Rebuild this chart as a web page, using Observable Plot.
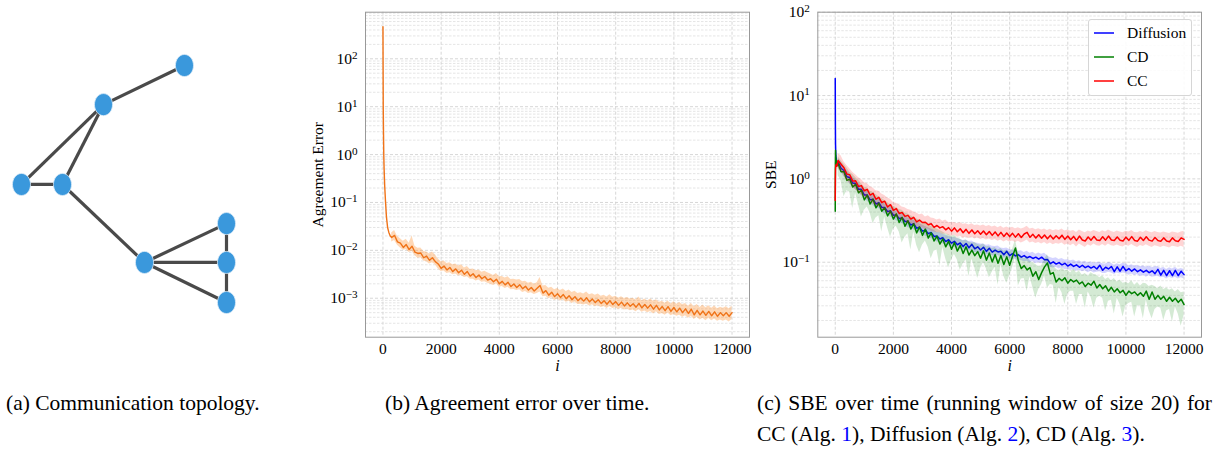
<!DOCTYPE html>
<html><head><meta charset="utf-8">
<script src="https://cdn.jsdelivr.net/npm/d3@7"></script>
<script src="https://cdn.jsdelivr.net/npm/@observablehq/plot@0.6"></script>
<style>
html,body{margin:0;padding:0;background:#fff;}
#root{position:relative;width:1216px;height:454px;overflow:hidden;font-family:"Liberation Serif",serif;}
.panel{position:absolute;}
</style></head><body><div id="root"></div>
<script>
// ---------- (a) topology ----------
const nodeIds = ["A","B","C","D","E","F","G","H"];
const nodeX = [0.795, 0.40, 0.00, 0.20, 0.60, 1.00, 1.00, 1.00];
const nodeY = [1.000, 0.835, 0.498, 0.498, 0.169, 0.333, 0.169, 0.000];
const edgeFrom = ["A","B","B","C","D","E","E","E","F","G"];
const edgeTo   = ["B","C","D","D","E","F","G","H","G","H"];

// ---------- (b) agreement error ----------
const agreeEarlyIter = [0,5,10,20,28,40,60,90,120,160,200,250];
const agreeEarly = [470,60,10,2.5,1.0,0.5,0.22,0.1,0.05,0.03,0.024,0.02];
const AGREE_UNIT = 1e-4; // main arrays below are in units of 1e-4, i = 300..12000 step 100
const agreeMean = [
185,205,150,142,115,132,104,122,92,86,
88,70,76,62,70,58,52,42,47,39,
44,36,41,34,38.5,31.5,36,29,32.5,27,
30.5,25.5,28.5,24,25.5,22,25,20,22.5,19,
21.5,17.5,19.8,16.8,19.2,15.8,17.8,14.8,16.8,14.2,
16.2,18.5,12.8,14.4,11.6,13.4,10.8,12.4,10.4,11.9,
9.8,11.3,9.3,10.8,8.9,10.1,8.7,10.2,8.4,9.6,
8.1,9.3,7.8,8.9,7.5,8.9,7.4,8.5,7.1,8.3,
6.9,8.0,6.8,7.7,6.5,7.8,6.3,7.4,6.2,7.3,
5.9,7.1,5.7,6.7,5.5,6.7,5.3,6.4,5.2,6.2,
5.0,6.0,4.8,5.9,4.5,5.6,4.5,5.4,4.4,5.3,
4.3,5.2,4.2,5.0,4.3,5.0,4.2,5.0];
const agreeLo = [
150,160,128,112,100,104,90,95,78,68,
70,60,58,52,55,50,41,36,37,33,
34,31,32,29,30,27,28,25,25,23,
24,21.5,22,20.5,19.5,18.5,20,17,17.5,16,
17,15,15.2,14.5,15,13.2,13.8,12.5,13,12,
12.6,13.5,10.8,11,9.8,10.3,9.0,9.5,8.7,9.2,
8.2,8.6,7.8,8.3,7.4,7.5,7.2,7.6,6.9,7.3,
6.6,7.0,6.4,6.7,6.1,6.7,6.1,6.3,5.8,6.2,
5.7,5.9,5.5,5.7,5.2,5.8,5.1,5.4,5.0,5.3,
4.7,5.2,4.6,4.8,4.4,4.9,4.3,4.6,4.2,4.4,
4.0,4.3,3.8,4.2,3.6,4.0,3.5,3.8,3.4,3.8,
3.4,3.7,3.3,3.5,3.3,3.5,3.2,3.6];
const agreeHi = [
230,260,195,175,155,170,140,200,122,110,
112,95,92,84,92,80,66,58,60,53,
55,50,52,47,50,43,46,40,41,37.5,
39,35,36.5,34,32,30,33,28,28.5,26.5,
28,24.5,25,24,24.5,22,22.5,20.5,21.5,19.5,
21,27,18,18.5,16.2,17,15,16,14.5,15.5,
13.8,14.8,13.2,14,12.5,13,12.2,13.5,11.8,12.4,
11.5,12.2,11,11.6,10.6,11.8,10.5,11,10,10.8,
9.9,10.4,9.6,10,9.2,10.6,8.9,9.6,8.8,9.6,
8.6,9.3,8.2,8.6,7.9,8.8,7.6,8.4,7.5,8.1,
7.3,7.8,6.8,7.8,6.6,7.4,6.4,7.2,6.3,7.0,
6.2,6.9,6.0,6.5,6.2,6.6,6.0,6.8];

// ---------- (c) SBE ----------
const sbeEarlyIter = [0,5,10,20,40,60,80];
const seriesNames = ["Diffusion","CD","CC"];
const seriesColors = ["#0000ff","#008000","#ff0000"];
const diffEarly = [16,4.5,2.6,1.9,1.7,1.6,1.55];
const cdEarly   = [0.41,1.5,2.2,1.8,1.6,1.5,1.45];
const ccEarly   = [0.55,1.0,1.3,1.45,1.5,1.42,1.55];
// main arrays: i = 100..12000 step 100
const diffMean = [
1.6,1.34,1.26,1.06,1.04,0.89,0.88,0.75,0.75,0.64,
0.64,0.56,0.57,0.5,0.52,0.455,0.455,0.405,0.415,0.365,
0.372,0.333,0.342,0.308,0.31,0.28,0.29,0.256,0.264,0.236,
0.243,0.22,0.228,0.204,0.207,0.19,0.197,0.177,0.186,0.169,
0.178,0.162,0.17,0.154,0.168,0.149,0.164,0.145,0.153,0.14,
0.151,0.135,0.147,0.132,0.14,0.133,0.135,0.123,0.135,0.12,
0.127,0.119,0.123,0.115,0.12,0.113,0.117,0.111,0.115,0.109,
0.115,0.107,0.108,0.096,0.101,0.095,0.099,0.093,0.097,0.09,
0.095,0.089,0.093,0.087,0.092,0.086,0.09,0.085,0.089,0.083,
0.092,0.08,0.087,0.083,0.089,0.077,0.088,0.078,0.089,0.079,
0.084,0.078,0.083,0.077,0.081,0.076,0.08,0.075,0.079,0.073,
0.082,0.07,0.08,0.069,0.079,0.069,0.08,0.069,0.078,0.071];
const diffLo = [
1.35,1.2,1.06,0.96,0.87,0.8,0.74,0.68,0.63,0.58,
0.54,0.51,0.48,0.45,0.44,0.41,0.38,0.37,0.35,0.33,
0.315,0.3,0.29,0.28,0.26,0.255,0.245,0.23,0.225,0.215,
0.205,0.2,0.193,0.185,0.175,0.173,0.167,0.161,0.158,0.153,
0.151,0.147,0.144,0.14,0.142,0.136,0.138,0.131,0.13,0.127,
0.128,0.123,0.125,0.12,0.118,0.121,0.114,0.112,0.114,0.11,
0.107,0.109,0.103,0.105,0.101,0.103,0.098,0.102,0.096,0.099,
0.096,0.098,0.091,0.087,0.085,0.087,0.083,0.085,0.081,0.082,
0.08,0.081,0.078,0.08,0.077,0.079,0.075,0.078,0.074,0.076,
0.077,0.073,0.073,0.076,0.074,0.071,0.074,0.072,0.074,0.073,
0.07,0.072,0.069,0.071,0.067,0.07,0.066,0.069,0.066,0.067,
0.068,0.065,0.066,0.063,0.066,0.064,0.066,0.063,0.065,0.063];
const diffHi = [
1.78,1.57,1.39,1.25,1.14,1.05,0.97,0.89,0.82,0.75,
0.71,0.66,0.63,0.59,0.57,0.54,0.5,0.48,0.46,0.43,
0.41,0.39,0.375,0.365,0.34,0.33,0.32,0.3,0.29,0.28,
0.268,0.26,0.25,0.242,0.228,0.225,0.216,0.21,0.205,0.2,
0.196,0.192,0.187,0.182,0.185,0.177,0.18,0.171,0.169,0.165,
0.166,0.16,0.162,0.156,0.154,0.157,0.148,0.146,0.148,0.142,
0.139,0.141,0.135,0.137,0.131,0.135,0.128,0.132,0.125,0.129,
0.125,0.128,0.119,0.114,0.111,0.113,0.108,0.111,0.106,0.107,
0.104,0.106,0.101,0.104,0.1,0.103,0.098,0.101,0.097,0.099,
0.1,0.096,0.095,0.099,0.097,0.092,0.096,0.093,0.097,0.095,
0.091,0.093,0.09,0.092,0.088,0.091,0.087,0.09,0.086,0.088,
0.089,0.084,0.087,0.082,0.086,0.083,0.087,0.082,0.084,0.082];
const cdMean = [
1.52,1.22,1.22,0.96,0.99,0.8,0.86,0.68,0.73,0.56,
0.64,0.5,0.57,0.45,0.51,0.41,0.45,0.36,0.41,0.33,
0.38,0.3,0.345,0.27,0.315,0.25,0.29,0.225,0.265,0.21,
0.25,0.195,0.225,0.18,0.205,0.165,0.19,0.153,0.178,0.143,
0.172,0.136,0.159,0.127,0.153,0.122,0.14,0.12,0.134,0.112,
0.137,0.106,0.129,0.101,0.124,0.097,0.12,0.094,0.116,0.092,
0.118,0.148,0.104,0.084,0.091,0.081,0.086,0.068,0.077,0.062,
0.075,0.088,0.098,0.072,0.075,0.058,0.064,0.06,0.065,0.056,
0.062,0.058,0.061,0.055,0.058,0.051,0.056,0.053,0.059,0.049,
0.054,0.048,0.052,0.045,0.05,0.044,0.048,0.043,0.046,0.04,
0.045,0.042,0.044,0.04,0.043,0.039,0.045,0.036,0.044,0.036,
0.04,0.036,0.039,0.034,0.038,0.034,0.037,0.033,0.036,0.031];
const cdLo = [
1.09,0.95,0.61,0.72,0.69,0.44,0.67,0.49,0.35,0.42,
0.46,0.39,0.29,0.34,0.36,0.23,0.35,0.26,0.2,0.25,
0.27,0.23,0.17,0.2,0.22,0.14,0.23,0.16,0.13,0.16,
0.18,0.15,0.11,0.135,0.14,0.09,0.15,0.11,0.085,0.107,
0.124,0.106,0.08,0.095,0.107,0.067,0.109,0.086,0.064,0.084,
0.099,0.083,0.065,0.076,0.087,0.053,0.094,0.068,0.056,0.069,
0.085,0.115,0.052,0.063,0.064,0.045,0.067,0.049,0.037,0.047,
0.054,0.069,0.049,0.054,0.053,0.032,0.05,0.043,0.031,0.042,
0.045,0.045,0.031,0.041,0.041,0.028,0.044,0.038,0.028,0.037,
0.039,0.037,0.026,0.034,0.035,0.024,0.037,0.031,0.022,0.03,
0.032,0.033,0.022,0.03,0.03,0.021,0.035,0.026,0.021,0.027,
0.029,0.028,0.02,0.026,0.027,0.019,0.029,0.024,0.017,0.023];
const cdHi = [
1.85,1.65,1.5,1.35,1.2,1.14,1.04,0.96,0.88,0.8,
0.78,0.71,0.69,0.65,0.61,0.58,0.55,0.52,0.49,0.47,
0.45,0.43,0.42,0.39,0.38,0.36,0.35,0.33,0.32,0.3,
0.3,0.28,0.27,0.26,0.25,0.24,0.23,0.22,0.215,0.205,
0.21,0.195,0.19,0.18,0.185,0.175,0.17,0.173,0.163,0.16,
0.166,0.153,0.156,0.146,0.15,0.14,0.146,0.135,0.14,0.133,
0.143,0.185,0.128,0.12,0.11,0.117,0.104,0.098,0.094,0.088,
0.091,0.107,0.124,0.1,0.091,0.083,0.078,0.086,0.079,0.08,
0.075,0.083,0.074,0.078,0.07,0.073,0.068,0.075,0.071,0.07,
0.065,0.069,0.062,0.065,0.06,0.064,0.058,0.061,0.056,0.057,
0.055,0.06,0.053,0.057,0.052,0.056,0.055,0.051,0.053,0.051,
0.048,0.052,0.047,0.049,0.046,0.048,0.044,0.047,0.043,0.044];
const ccMean = [
1.66,1.5,1.36,1.14,1.12,0.94,0.95,0.81,0.83,0.72,
0.75,0.64,0.67,0.57,0.6,0.52,0.54,0.46,0.49,0.42,
0.44,0.385,0.395,0.355,0.365,0.33,0.345,0.305,0.32,0.3,
0.302,0.282,0.29,0.262,0.276,0.258,0.267,0.245,0.26,0.236,
0.258,0.232,0.252,0.226,0.248,0.222,0.244,0.22,0.238,0.217,
0.237,0.214,0.234,0.21,0.231,0.207,0.228,0.204,0.224,0.203,
0.222,0.2,0.22,0.198,0.218,0.228,0.199,0.216,0.195,0.214,
0.194,0.212,0.191,0.21,0.19,0.208,0.191,0.211,0.188,0.206,
0.186,0.204,0.182,0.206,0.185,0.18,0.201,0.184,0.204,0.185,
0.182,0.202,0.184,0.206,0.185,0.182,0.201,0.184,0.18,0.2,
0.183,0.203,0.182,0.179,0.199,0.182,0.202,0.184,0.179,0.198,
0.182,0.178,0.196,0.18,0.176,0.196,0.181,0.177,0.196,0.188];
const ccLo = [
1.3,1.25,1.08,0.95,0.88,0.8,0.74,0.69,0.64,0.6,
0.58,0.54,0.5,0.48,0.46,0.44,0.42,0.39,0.38,0.35,
0.35,0.33,0.32,0.31,0.29,0.29,0.28,0.27,0.255,0.26,
0.245,0.25,0.235,0.23,0.225,0.225,0.215,0.22,0.21,0.205,
0.21,0.2,0.205,0.195,0.2,0.192,0.2,0.19,0.195,0.188,
0.192,0.185,0.19,0.182,0.188,0.178,0.185,0.175,0.182,0.175,
0.18,0.172,0.178,0.17,0.176,0.185,0.17,0.175,0.168,0.172,
0.165,0.172,0.163,0.17,0.162,0.168,0.164,0.17,0.16,0.166,
0.158,0.165,0.152,0.166,0.158,0.15,0.162,0.156,0.165,0.158,
0.155,0.163,0.156,0.166,0.158,0.155,0.161,0.156,0.152,0.16,
0.156,0.163,0.155,0.15,0.159,0.154,0.162,0.156,0.15,0.158,
0.154,0.15,0.156,0.152,0.148,0.156,0.153,0.15,0.156,0.15];
const ccHi = [
2.0,1.9,1.6,1.45,1.32,1.2,1.12,1.04,0.98,0.9,
0.88,0.81,0.78,0.72,0.71,0.66,0.63,0.59,0.57,0.52,
0.51,0.49,0.46,0.45,0.43,0.42,0.4,0.39,0.37,0.38,
0.35,0.36,0.34,0.335,0.32,0.33,0.31,0.32,0.3,0.3,
0.3,0.29,0.3,0.285,0.29,0.28,0.29,0.275,0.28,0.272,
0.28,0.268,0.276,0.264,0.272,0.26,0.27,0.256,0.264,0.255,
0.262,0.252,0.26,0.25,0.258,0.27,0.25,0.255,0.245,0.252,
0.243,0.25,0.24,0.248,0.238,0.246,0.24,0.25,0.237,0.243,
0.235,0.24,0.228,0.243,0.233,0.226,0.237,0.231,0.24,0.233,
0.228,0.238,0.231,0.243,0.233,0.228,0.237,0.231,0.226,0.236,
0.231,0.24,0.228,0.225,0.234,0.228,0.238,0.231,0.225,0.233,
0.228,0.224,0.231,0.226,0.221,0.231,0.227,0.222,0.231,0.235];

const xTickValues = [0,2000,4000,6000,8000,10000,12000];
const captionA = "(a) Communication topology.";
const captionB = "(b) Agreement error over time.";
const captionC1 = "(c) SBE over time (running window of size 20) for";
const captionC2 = [["CC (Alg. ",0],["1",1],["), Diffusion (Alg. ",0],["2",1],["), CD (Alg. ",0],["3",1],[").",0]];

// ---------- helpers ----------
const FONT = '"Liberation Serif", "Times New Roman", serif';
const root = document.getElementById("root");
function place(el, left, top){ el.classList.add("panel"); el.style.left = left+"px"; el.style.top = top+"px"; root.appendChild(el); }
const powFmt = d => "10^" + String(Math.round(Math.log10(d))).replace("-", "\u2212");
function supify(svg){
  svg.querySelectorAll("text").forEach(t => {
    const m = /^10\^(.+)$/.exec(t.textContent);
    if (!m) return;
    while (t.firstChild) t.removeChild(t.firstChild);
    t.appendChild(document.createTextNode("10"));
    const s = document.createElementNS("http://www.w3.org/2000/svg","tspan");
    s.setAttribute("dy","-0.45em"); s.setAttribute("font-size","0.72em");
    s.textContent = m[1];
    t.appendChild(s);
  });
}
function minorTicks(lo, hi){
  const out = [];
  for (let k = Math.floor(Math.log10(lo)); k <= Math.ceil(Math.log10(hi)); k++)
    for (let m = 2; m <= 9; m++){ const v = m*Math.pow(10,k); if (v>lo && v<hi) out.push(v); }
  return out;
}
function majorTicks(lo, hi){
  const out = [];
  for (let k = Math.ceil(Math.log10(lo)); k <= Math.floor(Math.log10(hi)+1e-9); k++) out.push(Math.pow(10,k));
  return out;
}

// ---------- panel (a) ----------
const nodes = nodeIds.map((id,k) => ({id, x: nodeX[k], y: nodeY[k]}));
const byId = Object.fromEntries(nodes.map(n => [n.id, n]));
const edges = edgeFrom.map((f,k) => ({a: byId[f], b: byId[edgeTo[k]]}));
const ellipse = {draw(ctx, size){
  const r = Math.sqrt(size/Math.PI), rx = r*0.86, ry = r*1.05, k = 0.5523;
  ctx.moveTo(rx,0);
  ctx.bezierCurveTo(rx, ry*k, rx*k, ry, 0, ry);
  ctx.bezierCurveTo(-rx*k, ry, -rx, ry*k, -rx, 0);
  ctx.bezierCurveTo(-rx, -ry*k, -rx*k, -ry, 0, -ry);
  ctx.bezierCurveTo(rx*k, -ry, rx, -ry*k, rx, 0);
  ctx.closePath();
}};
const panelA = Plot.plot({
  width: 260, height: 290, marginLeft: 21, marginRight: 34, marginTop: 25, marginBottom: 28,
  x: {domain: [0,1], axis: null}, y: {domain: [0,1], axis: null},
  style: {background: "transparent", overflow: "visible"},
  marks: [
    Plot.link(edges, {x1: d => d.a.x, y1: d => d.a.y, x2: d => d.b.x, y2: d => d.b.y, stroke: "#4a4a4a", strokeWidth: 3.2}),
    Plot.dot(nodes, {x: "x", y: "y", r: 10.5, symbol: ellipse, fill: "#3a98dc", stroke: "#dcebf7", strokeWidth: 0.8})
  ]
});
place(panelA, 0, 40);

// ---------- panel (b) ----------
const agreeIter = d3.range(300, 12001, 100);
const agreeLine = agreeEarlyIter.map((i,k) => ({i, v: agreeEarly[k]}))
  .concat(agreeIter.map((i,k) => ({i, v: agreeMean[k]*AGREE_UNIT})));
const agreeBand = agreeIter.map((i,k) => ({i, lo: agreeLo[k]*AGREE_UNIT, hi: agreeHi[k]*AGREE_UNIT}));
const yDomB = [1.535e-4, 940];
const panelB = Plot.plot({
  width: 460, height: 380, marginLeft: 65, marginRight: 11, marginTop: 11.7, marginBottom: 43.3,
  style: {fontFamily: FONT, fontSize: "15.5px", background: "transparent", overflow: "visible", color: "#000"},
  x: {domain: [-600, 12600]},
  y: {type: "log", domain: yDomB},
  marks: [
    Plot.ruleY(minorTicks(...yDomB), {stroke: "#dedede", strokeWidth: 0.8, strokeDasharray: "2.5,1.5"}),
    Plot.ruleY(majorTicks(...yDomB), {stroke: "#d2d2d2", strokeWidth: 0.9, strokeDasharray: "3,2"}),
    Plot.ruleX(xTickValues, {stroke: "#d2d2d2", strokeWidth: 0.9, strokeDasharray: "3,2"}),
    Plot.areaY(agreeBand, {x: "i", y1: "lo", y2: "hi", fill: "#ff7f0e", fillOpacity: 0.3}),
    Plot.lineY(agreeLine, {x: "i", y: "v", stroke: "#f07318", strokeWidth: 1.4}),
    Plot.frame({stroke: "#999"}),
    Plot.axisX(xTickValues, {tickSize: 0, tickPadding: 6, tickFormat: d => String(d), label: null, fontSize: 15.5}),
    Plot.axisY(majorTicks(...yDomB), {tickSize: 0, tickPadding: 8, tickFormat: powFmt, label: "Agreement Error", labelAnchor: "center", labelArrow: "none", labelOffset: 54, fontSize: 15.5}),
    Plot.text(["i"], {frameAnchor: "bottom", lineAnchor: "middle", dy: 29, fontStyle: "italic", fontSize: 16})
  ]
});
supify(panelB);
place(panelB, 300, 0);

// ---------- panel (c) ----------
const sbeIter = d3.range(100, 12001, 100);
const sEarly = [diffEarly, cdEarly, ccEarly];
const sMean = [diffMean, cdMean, ccMean];
const sLo = [diffLo, cdLo, ccLo];
const sHi = [diffHi, cdHi, ccHi];
const yDomC = [0.0126, 100];
const marksC = [
  Plot.ruleY(minorTicks(...yDomC), {stroke: "#dedede", strokeWidth: 0.8, strokeDasharray: "2.5,1.5"}),
  Plot.ruleY(majorTicks(...yDomC), {stroke: "#d2d2d2", strokeWidth: 0.9, strokeDasharray: "3,2"}),
  Plot.ruleX(xTickValues, {stroke: "#d2d2d2", strokeWidth: 0.9, strokeDasharray: "3,2"})
];
seriesNames.forEach((name, s) => {
  const line = sbeEarlyIter.map((i,k) => ({i, v: sEarly[s][k]})).concat(sbeIter.map((i,k) => ({i, v: sMean[s][k]})));
  const band = sbeIter.map((i,k) => ({i, lo: sLo[s][k], hi: sHi[s][k]}));
  marksC.push(Plot.areaY(band, {x: "i", y1: "lo", y2: "hi", fill: seriesColors[s], fillOpacity: 0.17}));
  marksC.push(Plot.lineY(line, {x: "i", y: "v", stroke: seriesColors[s], strokeWidth: 1.5}));
});
marksC.push(
  Plot.frame({stroke: "#999"}),
  Plot.axisX(xTickValues, {tickSize: 0, tickPadding: 6, tickFormat: d => String(d), label: null, fontSize: 15.5}),
  Plot.axisY(majorTicks(...yDomC), {tickSize: 0, tickPadding: 8, tickFormat: powFmt, label: "SBE", labelAnchor: "center", labelArrow: "none", labelOffset: 53, fontSize: 15.5}),
  Plot.text(["i"], {frameAnchor: "bottom", lineAnchor: "middle", dy: 29, fontStyle: "italic", fontSize: 16})
);
const panelC = Plot.plot({
  width: 456, height: 380, marginLeft: 57.3, marginRight: 15, marginTop: 11.7, marginBottom: 43.3,
  style: {fontFamily: FONT, fontSize: "15.5px", background: "transparent", overflow: "visible", color: "#000"},
  x: {domain: [-600, 12600]},
  y: {type: "log", domain: yDomC},
  marks: marksC
});
supify(panelC);
place(panelC, 760, 0);

// ---------- legend ----------
const NS = "http://www.w3.org/2000/svg";
const leg = document.createElement("div");
leg.style.cssText = "width:104px;height:77px;border:1px solid #d6d6d6;border-radius:3px;background:rgba(255,255,255,0.85);box-sizing:border-box;";
const lsvg = document.createElementNS(NS, "svg");
lsvg.setAttribute("width", 104); lsvg.setAttribute("height", 77);
seriesNames.forEach((name, s) => {
  const cy = 13 + s*24;
  const ln = document.createElementNS(NS, "line");
  ln.setAttribute("x1", 5); ln.setAttribute("x2", 25); ln.setAttribute("y1", cy); ln.setAttribute("y2", cy);
  ln.setAttribute("stroke", seriesColors[s]); ln.setAttribute("stroke-width", 1.5);
  lsvg.appendChild(ln);
  const tx = document.createElementNS(NS, "text");
  tx.setAttribute("x", 38); tx.setAttribute("y", cy + 5);
  tx.setAttribute("font-family", FONT); tx.setAttribute("font-size", 15.5);
  tx.textContent = name;
  lsvg.appendChild(tx);
});
leg.appendChild(lsvg);
place(leg, 1088, 19);

// ---------- captions ----------
const cap = document.createElementNS(NS, "svg");
cap.setAttribute("width", 1216); cap.setAttribute("height", 454);
cap.style.position = "absolute"; cap.style.left = "0px"; cap.style.top = "0px";
root.appendChild(cap);
function capText(x, y){
  const t = document.createElementNS(NS, "text");
  t.setAttribute("x", x); t.setAttribute("y", y);
  t.setAttribute("font-family", FONT); t.setAttribute("font-size", 21.5);
  cap.appendChild(t); return t;
}
capText(6, 410).textContent = captionA;
capText(385, 410).textContent = captionB;
const c1 = capText(757, 410); c1.textContent = captionC1;
const w1 = c1.getComputedTextLength();
const spaces = (captionC1.match(/ /g) || []).length;
if (w1 < 455) c1.setAttribute("word-spacing", ((455 - w1)/spaces).toFixed(2));
const c2 = capText(757, 441);
captionC2.forEach(([str, blue]) => {
  const sp = document.createElementNS(NS, "tspan");
  sp.textContent = str; if (blue) sp.setAttribute("fill", "#0000ff");
  c2.appendChild(sp);
});
</script></body></html>
